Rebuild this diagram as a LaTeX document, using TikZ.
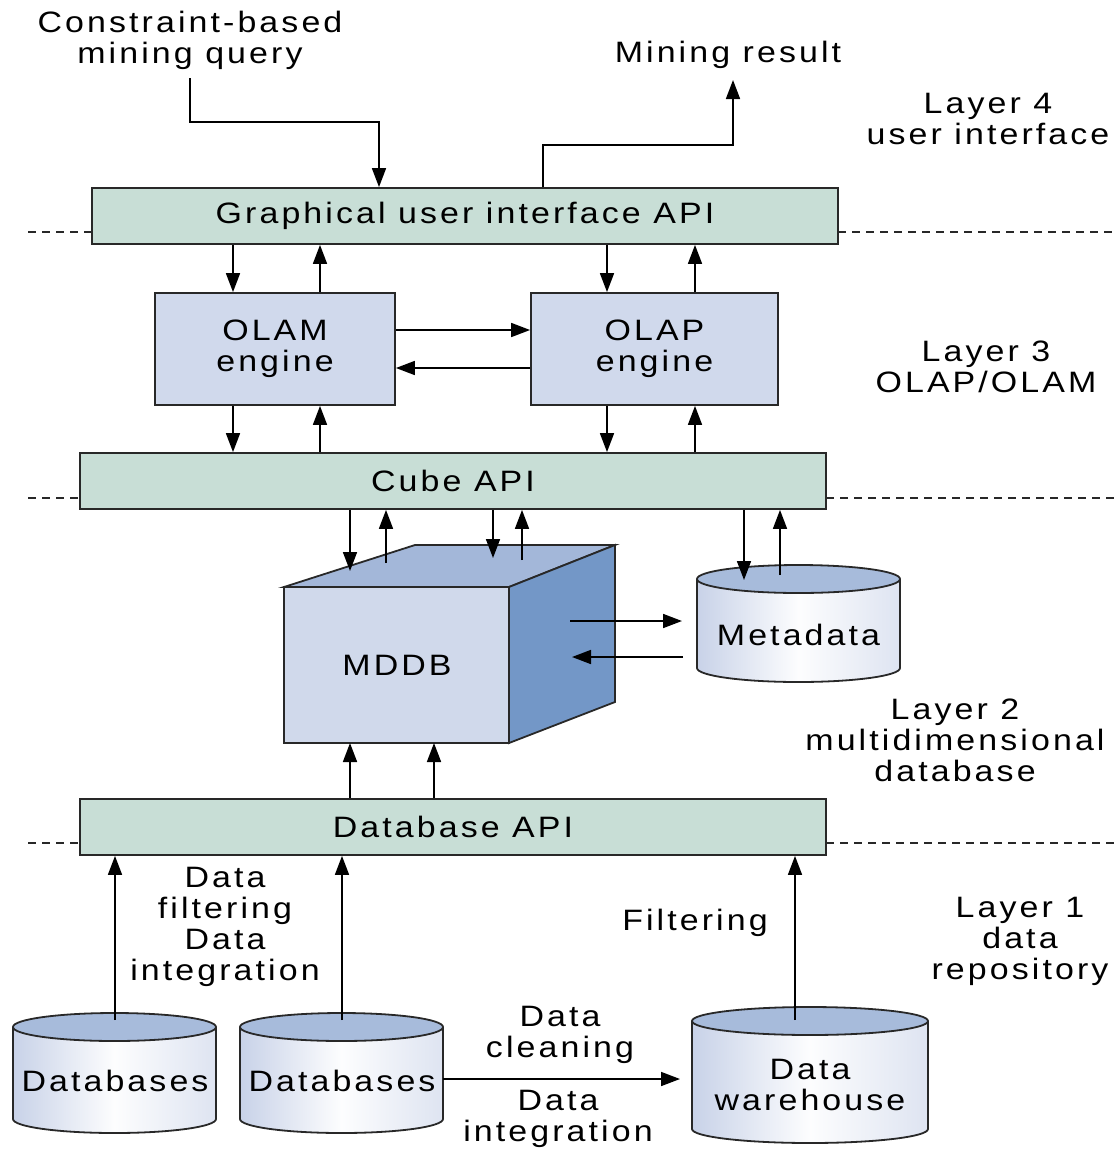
\documentclass[tikz,border=0pt]{standalone}
\usepackage{fontspec}
\setmainfont{Liberation Sans}[FakeStretch=1.15,LetterSpace=10.5]
\usetikzlibrary{arrows.meta}
\definecolor{apifill}{RGB}{200,222,214}
\definecolor{engfill}{RGB}{208,217,236}
\definecolor{cubefront}{RGB}{208,217,235}
\definecolor{cubetop}{RGB}{163,183,217}
\definecolor{cubeside}{RGB}{115,151,199}
\definecolor{cyltop}{RGB}{167,187,219}
\definecolor{cylside}{RGB}{200,210,232}
\definecolor{edge}{RGB}{40,40,40}
\newcommand\mycyl[5]{%
  \shade[left color=cylside,right color=cylside!60,middle color=white!96!cylside]
    (#1-#4,#2) -- (#1-#4,#3) arc[start angle=180,end angle=360,x radius=#4pt,y radius=#5pt] -- (#1+#4,#2) -- cycle;
  \draw[line width=1.8pt,draw=edge,fill=cyltop] (#1,#2) ellipse[x radius=#4pt,y radius=#5pt];
  \draw[line width=1.8pt,draw=edge] (#1-#4,#2) -- (#1-#4,#3) arc[start angle=180,end angle=360,x radius=#4pt,y radius=#5pt] -- (#1+#4,#2);
}
\begin{document}
\begin{tikzpicture}[x=1pt,y=-1pt,
  font=\fontsize{29.5}{31}\selectfont,
  apibox/.style={draw=edge,line width=1.8pt,fill=apifill,minimum width=746pt,minimum height=56pt,inner sep=0pt},
  engbox/.style={draw=edge,line width=1.8pt,fill=engfill,minimum height=112pt,inner sep=0pt,align=center},
  lbl/.style={align=center,inner sep=0pt},
  arr/.style={-{Triangle[length=19pt,width=14pt]},line width=1.7pt,draw=black},
  layerline/.style={line width=1.3pt,draw=edge,dash pattern=on 8pt off 6pt}]
\useasboundingbox (0,0) rectangle (1118,1149);

% dashed layer lines
\draw[layerline] (28,232) -- (92,232);
\draw[layerline] (838,232) -- (1114,232);
\draw[layerline] (28,498) -- (80,498);
\draw[layerline] (826,498) -- (1114,498);
\draw[layerline] (28,843) -- (80,843);
\draw[layerline] (826,843) -- (1114,843);

% boxes
\node[apibox] (gui) at (465,216) {Graphical user interface API};
\node[engbox,minimum width=240pt] (olam) at (275,349) {OLAM\\engine};
\node[engbox,minimum width=247pt] (olap) at (654.5,349) {OLAP\\engine};
\node[apibox] (cubeapi) at (453,481) {Cube API};
\node[apibox] (dbapi) at (453,827) {Database API};

% MDDB cube
\draw[line width=1.8pt,draw=edge,fill=cubetop] (284,587) -- (415,545) -- (615,545) -- (509,587) -- cycle;
\draw[line width=1.8pt,draw=edge,fill=cubeside] (509,587) -- (615,545) -- (615,702) -- (509,743) -- cycle;
\draw[line width=1.8pt,draw=edge,fill=cubefront] (284,587) rectangle (509,743);
\node[lbl] (mddb) at (397,665) {MDDB};

% cylinders
\mycyl{798.5}{579}{668}{101.5}{14}
\node[lbl] (meta) at (798.5,635) {Metadata};
\mycyl{114.5}{1027}{1119}{101.5}{14}
\node[lbl] (db1) at (115,1081) {Databases};
\mycyl{341.5}{1027}{1119}{101.5}{14}
\node[lbl] (db2) at (342,1081) {Databases};
\mycyl{810}{1021}{1129}{118}{14}
\node[lbl] (dw) at (810,1085) {Data\\warehouse};

% free texts
\node[lbl] (query) at (190,40) {Constraint-based\\mining query};
\node[lbl] (result) at (728,55) {Mining result};
\node[lbl] (l4) at (988,119) {Layer 4\\user interface};
\node[lbl] (l3) at (986,367) {Layer 3\\OLAP/OLAM};
\node[lbl] (l2) at (955,740) {Layer 2\\multidimensional\\database};
\node[lbl] (l1) at (1020,941) {Layer 1\\data\\repository};
\node[lbl] (dfi) at (225,927) {Data\\filtering\\Data\\integration};
\node[lbl] (filt) at (695,923) {Filtering};
\node[lbl] (clean) at (560,1035) {Data\\cleaning};
\node[lbl] (integ) at (558,1119) {Data\\integration};

% coordinates for connector ends
\coordinate (q0) at (190,78);
\coordinate (r0) at (733,80);
\coordinate (mtA) at (350,571);
\coordinate (mtB) at (386,563);
\coordinate (mtC) at (493,558);
\coordinate (mtD) at (522,560);
\coordinate (metaA) at (744,580);
\coordinate (metaB) at (780,575);
\coordinate (sideA) at (570,621);
\coordinate (sideB) at (572,657);
\coordinate (metaL1) at (682,621);
\coordinate (metaL2) at (683,657);
\coordinate (db1top) at (115,1020);
\coordinate (db2top) at (342,1020);
\coordinate (dwtop) at (795,1020);
\coordinate (db2r) at (443,1079);
\coordinate (dwl) at (680,1079);

% top connectors
\draw[arr] (q0) -- (190,122) -- (379,122) -- (379,0 |- gui.north);
\draw[arr] (543,0 |- gui.north) -- (543,145) -- (733,145) -- (r0);

% GUI <-> engines
\draw[arr] (233,0 |- gui.south) -- (233,0 |- olam.north);
\draw[arr] (320,0 |- olam.north) -- (320,0 |- gui.south);
\draw[arr] (607,0 |- gui.south) -- (607,0 |- olap.north);
\draw[arr] (695,0 |- olap.north) -- (695,0 |- gui.south);

% OLAM <-> OLAP
\draw[arr] (olam.east |- 0,330) -- (olap.west |- 0,330);
\draw[arr] (olap.west |- 0,368) -- (olam.east |- 0,368);

% engines <-> cube API
\draw[arr] (233,0 |- olam.south) -- (233,0 |- cubeapi.north);
\draw[arr] (320,0 |- cubeapi.north) -- (320,0 |- olam.south);
\draw[arr] (607,0 |- olap.south) -- (607,0 |- cubeapi.north);
\draw[arr] (695,0 |- cubeapi.north) -- (695,0 |- olap.south);

% cube API <-> MDDB / metadata
\draw[arr] (mtA |- cubeapi.south) -- (mtA);
\draw[arr] (mtB) -- (mtB |- cubeapi.south);
\draw[arr] (mtC |- cubeapi.south) -- (mtC);
\draw[arr] (mtD) -- (mtD |- cubeapi.south);
\draw[arr] (metaA |- cubeapi.south) -- (metaA);
\draw[arr] (metaB) -- (metaB |- cubeapi.south);

% MDDB <-> metadata
\draw[arr] (sideA) -- (metaL1);
\draw[arr] (metaL2) -- (sideB);

% database API -> MDDB
\draw[arr] (350,0 |- dbapi.north) -- (350,743);
\draw[arr] (434,0 |- dbapi.north) -- (434,743);

% repositories -> database API
\draw[arr] (db1top) -- (db1top |- dbapi.south);
\draw[arr] (db2top) -- (db2top |- dbapi.south);
\draw[arr] (dwtop) -- (dwtop |- dbapi.south);
\draw[arr] (db2r) -- (dwl);
\end{tikzpicture}
\end{document}
